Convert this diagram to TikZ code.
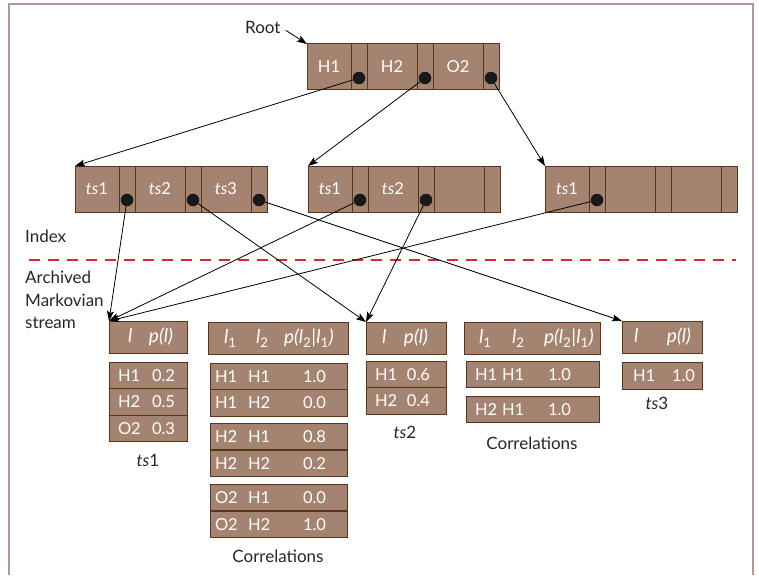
\documentclass[tikz,border=0pt]{standalone}
\usepackage{fontspec}
\setmainfont{Lato}
\usetikzlibrary{arrows.meta}

\definecolor{cellfill}{RGB}{164,132,113}
\definecolor{cellline}{RGB}{88,54,30}
\definecolor{framecol}{RGB}{180,150,148}
\definecolor{seprd}{RGB}{222,36,46}

\tikzset{
  cell/.style={draw=cellline, fill=cellfill, line width=1pt, minimum height=46pt,
    inner sep=0pt, outer sep=0pt, anchor=north west, text=white,
    font=\fontsize{16.5}{18}\selectfont},
  tab/.style={draw=cellline, fill=cellfill, line width=1pt, inner sep=0pt,
    outer sep=0pt, anchor=north west, align=left, text=white,
    font=\fontsize{16.5}{18}\selectfont},
  hdr/.style={tab, minimum height=32pt, font=\fontsize{19}{20}\selectfont},
  dot/.style={circle, fill=black!90, inner sep=0pt, minimum size=12.5pt},
  ptr/.style={line width=0.8pt, -{Stealth[length=10pt,width=7pt,inset=2pt]}},
  lbl/.style={font=\fontsize{17}{22.5}\selectfont, text=black!85, inner sep=0pt},
}

% one index record: key, pointer, key, pointer, key, pointer
\newcommand{\idxrec}[6]{%
  \node[cell, minimum width=44pt] (#1-a) at (#2,#3) {#4};
  \node[cell, minimum width=16pt] (#1-pa) at (#1-a.north east) {};
  \node[cell, minimum width=50pt] (#1-b) at (#1-pa.north east) {#5};
  \node[cell, minimum width=16pt] (#1-pb) at (#1-b.north east) {};
  \node[cell, minimum width=50pt] (#1-c) at (#1-pb.north east) {#6};
  \node[cell, minimum width=16pt] (#1-pc) at (#1-c.north east) {};
}
\newcommand{\lsub}[1]{\textit{l}\textsubscript{#1}}
\newcommand{\pcond}{\textit{p(l}\textsubscript{2}\textit{|l}\textsubscript{1}\textit{)}}

\begin{document}
\begin{tikzpicture}[x=1pt, y=-1pt]
\useasboundingbox (0,0) rectangle (759,575);
\draw[framecol, line width=1.5pt] (9,575) |- (753,4) -- (753,575);

% index tree
\node[lbl, anchor=west] (rootlbl) at (245,27) {Root};
\idxrec{root}{307}{44}{H1}{H2}{O2}
\idxrec{i1}{75}{166}{\textit{ts}1}{\textit{ts}2}{\textit{ts}3}
\idxrec{i2}{308}{166}{\textit{ts}1}{\textit{ts}2}{}
\idxrec{i3}{545}{166}{\textit{ts}1}{}{}
\foreach \n/\p/\d in {root/pa/d1, root/pb/d2, root/pc/d3, i1/pa/d1, i1/pb/d2,
    i1/pc/d3, i2/pa/d1, i2/pb/d2, i3/pa/d1}
  \node[dot] (\n-\d) at ([yshift=12pt]\n-\p.south) {};

\node[lbl, anchor=west] (idxlbl) at (25,236) {Index};
\draw[seprd, line width=2.5pt, dash pattern=on 11pt off 8pt] (29,260) -- (736,260);
\node[lbl, anchor=north west, align=left] (streamlbl) at (25,271)
  {Archived\\Markovian\\stream};

% ts1
\node[hdr, text width=78pt] (t1-h) at (109,321)
  {\hspace*{19pt}\makebox[21pt][l]{\textit{l}}\textit{p(l)}};
\foreach \n/\y/\a/\v in {1/362/H1/0.2, 2/388.5/H2/0.5, 3/415/O2/0.3}
  \node[tab, text width=78pt, minimum height=26.5pt] (t1-r\n) at (109,\y)
    {\hspace*{9pt}\makebox[34pt][l]{\a}\v};
\node[lbl] (t1-lbl) at (148,460) {\textit{ts}1};

% correlations for ts1
\node[hdr, text width=140pt] (c1-h) at (208,322)
  {\hspace*{16pt}\makebox[32pt][l]{\lsub{1}}\makebox[28pt][l]{\lsub{2}}\pcond};
\foreach \n/\y/\a/\b/\v in {1/363/H1/H1/1.0, 2/389.5/H1/H2/0.0, 3/423/H2/H1/0.8,
    4/450/H2/H2/0.2, 5/484/O2/H1/0.0, 6/511/O2/H2/1.0}
  \node[tab, text width=137pt, minimum height=26.5pt] (c1-r\n) at (210,\y)
    {\hspace*{5pt}\makebox[33pt][l]{\a}\makebox[55pt][l]{\b}\v};
\node[lbl] (c1-lbl) at (278,556) {Correlations};

% ts2
\node[hdr, text width=80pt] (t2-h) at (366,322)
  {\hspace*{16pt}\makebox[22pt][l]{\textit{l}}\textit{p(l)}};
\foreach \n/\y/\a/\v in {1/361/H1/0.6, 2/387.5/H2/0.4}
  \node[tab, text width=80pt, minimum height=26.5pt] (t2-r\n) at (366,\y)
    {\hspace*{9pt}\makebox[32pt][l]{\a}\v};
\node[lbl] (t2-lbl) at (405,432) {\textit{ts}2};

% correlations for ts2
\node[hdr, text width=136pt] (c2-h) at (464,322)
  {\hspace*{15pt}\makebox[33pt][l]{\lsub{1}}\makebox[32pt][l]{\lsub{2}}\pcond};
\foreach \n/\y/\a/\b/\v in {1/361/H1/H1/1.0, 2/396/H2/H1/1.0}
  \node[tab, text width=133pt, minimum height=26.5pt] (c2-r\n) at (466,\y)
    {\hspace*{9pt}\makebox[27pt][l]{\a}\makebox[46pt][l]{\b}\v};
\node[lbl] (c2-lbl) at (532,443) {Correlations};

% ts3
\node[hdr, text width=80pt] (t3-h) at (622,321)
  {\hspace*{12pt}\makebox[33pt][l]{\textit{l}}\textit{p(l)}};
\node[tab, text width=80pt, minimum height=27pt] (t3-r1) at (622,362)
  {\hspace*{11pt}\makebox[39pt][l]{H1}1.0};
\node[lbl] (t3-lbl) at (657,403) {\textit{ts}3};

% pointers
\draw[ptr, shorten <=6pt] (rootlbl.east) -- (root-a.north west);
\foreach \a/\b in {root-d1/i1-a, root-d2/i2-a, root-d3/i3-a, i1-d1/t1-h,
    i2-d1/t1-h, i3-d1/t1-h, i1-d2/t2-h, i2-d2/t2-h, i1-d3/t3-h}
  \draw[ptr] (\a) -- (\b.north west);
\end{tikzpicture}
\end{document}
